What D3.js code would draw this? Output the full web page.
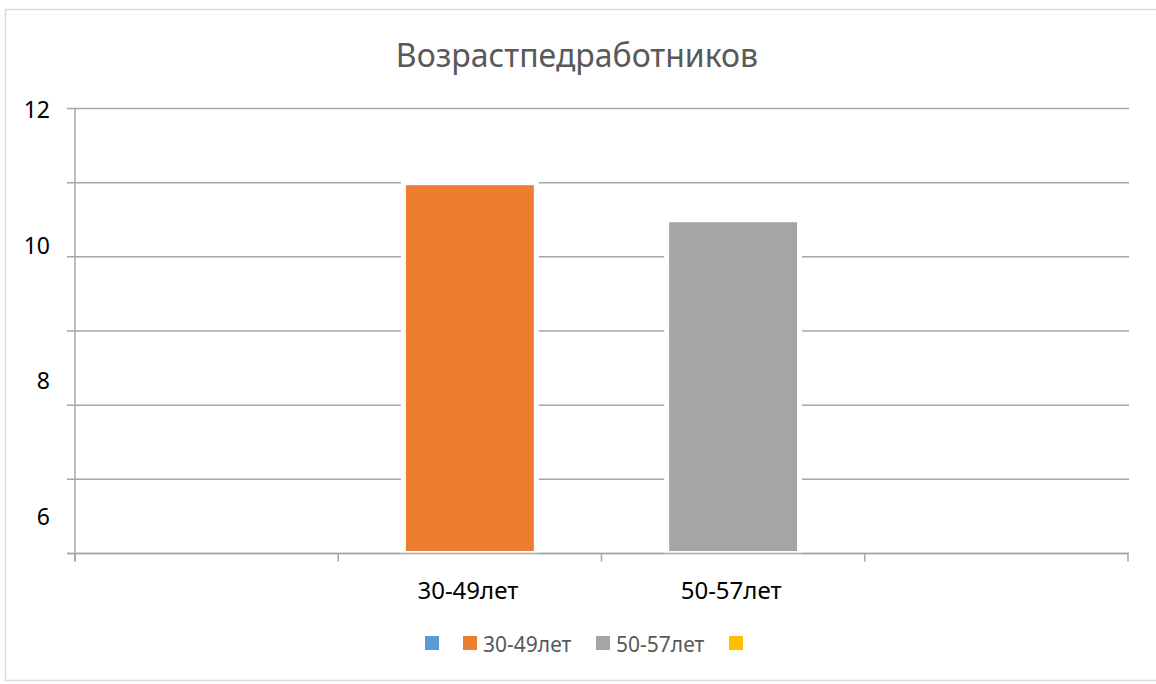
<!DOCTYPE html>
<html>
<head>
<meta charset="utf-8">
<script src="https://d3js.org/d3.v7.min.js"></script>
<style>
  body { margin: 0; background: #fff; }
  svg text { font-family: "Noto Sans", sans-serif; }
</style>
</head>
<body>
<div id="chart"></div>
<script>
// data
var title = "Возрастпедработников";
var categories = ["", "30-49лет", "50-57лет", " "];
var values = [null, 11, 10.5, null];
var colors = ["#5B9BD5", "#ED7D31", "#A5A5A5", "#FFC000"];
var yTicks = [6, 7, 8, 9, 10, 11, 12];
var yLabels = [6, 8, 10, 12];

var W = 1156, H = 684;
var margin = { top: 108.5, right: 28, bottom: 130.5, left: 75 },
  width = W - margin.left - margin.right,
  height = H - margin.top - margin.bottom;

var svg = d3.select("#chart")
  .append("svg")
  .attr("width", W)
  .attr("height", H);

// outer frame
svg.append("rect")
  .attr("x", 5.5).attr("y", 9.5)
  .attr("width", 1160).attr("height", 671)
  .attr("fill", "none")
  .attr("stroke", "#d9d9d9")
  .attr("stroke-width", 1.5);

svg.append("text")
  .attr("x", 577).attr("y", 67)
  .attr("text-anchor", "middle")
  .attr("font-size", 32)
  .attr("fill", "#595959")
  .text(title);

var g = svg.append("g")
  .attr("transform", "translate(" + margin.left + "," + margin.top + ")");

var x = d3.scaleBand().domain(categories).range([0, width]).paddingInner(0).paddingOuter(0);
var y = d3.scaleLinear().domain([6, 12]).range([height, 0]);
// the tick labels sit a bit off the grid in the original
var yLab = d3.scaleLinear().domain([6, 12]).range([height - 28.5, 9.5]);

// gridlines + left ticks
g.append("g")
  .selectAll("line")
  .data(yTicks)
  .join("line")
  .attr("x1", -8).attr("x2", width + 1)
  .attr("y1", function (d) { return y(d); })
  .attr("y2", function (d) { return y(d); })
  .attr("stroke", "#a6a6a6")
  .attr("stroke-width", 1.5);

// y axis line
g.append("line")
  .attr("x1", 0).attr("x2", 0)
  .attr("y1", 0).attr("y2", height + 8)
  .attr("stroke", "#a6a6a6")
  .attr("stroke-width", 1.5);

// x ticks at band edges
var edges = categories.map(function (c) { return x(c); }).concat([width]);
g.append("g")
  .selectAll("line")
  .data(edges)
  .join("line")
  .attr("x1", function (d) { return d; })
  .attr("x2", function (d) { return d; })
  .attr("y1", height).attr("y2", height + 8)
  .attr("stroke", "#a6a6a6")
  .attr("stroke-width", 1.5);

// y labels
g.append("g")
  .selectAll("text")
  .data(yLabels)
  .join("text")
  .attr("x", -25)
  .attr("y", function (d) { return yLab(d); })
  .attr("text-anchor", "end")
  .attr("font-size", 23)
  .attr("fill", "#000")
  .text(function (d) { return d; });

// bars
var barW = x.bandwidth() * 0.505;
g.append("g")
  .selectAll("rect")
  .data(categories.map(function (c, i) { return { c: c, v: values[i], color: colors[i] }; })
    .filter(function (d) { return d.v != null; }))
  .join("rect")
  .attr("x", function (d) { return x(d.c) + (x.bandwidth() - barW) / 2; })
  .attr("y", function (d) { return y(d.v); })
  .attr("width", barW)
  .attr("height", function (d) { return height - y(d.v); })
  .attr("fill", function (d) { return d.color; })
  .attr("stroke", "#fff")
  .attr("stroke-width", 5);

// redraw baseline over bars
g.append("line")
  .attr("x1", -8).attr("x2", width + 1)
  .attr("y1", height).attr("y2", height)
  .attr("stroke", "#a6a6a6")
  .attr("stroke-width", 1.5);

// category labels
g.append("g")
  .selectAll("text")
  .data(categories)
  .join("text")
  .attr("x", function (d) { return x(d) + x.bandwidth() / 2 - 2; })
  .attr("y", height + 45.5)
  .attr("text-anchor", "middle")
  .attr("font-size", 24)
  .attr("fill", "#000")
  .text(function (d) { return d.trim(); });

// legend
var legendX = [425, 463, 596, 729];
var legend = svg.append("g")
  .selectAll("g")
  .data(categories)
  .join("g")
  .attr("transform", function (d, i) { return "translate(" + legendX[i] + ",636)"; });
legend.append("rect")
  .attr("width", 14).attr("height", 14)
  .attr("fill", function (d, i) { return colors[i]; });
legend.append("text")
  .attr("x", 20).attr("y", 16)
  .attr("font-size", 21)
  .attr("fill", "#595959")
  .text(function (d) { return d.trim(); });
</script>
</body>
</html>
